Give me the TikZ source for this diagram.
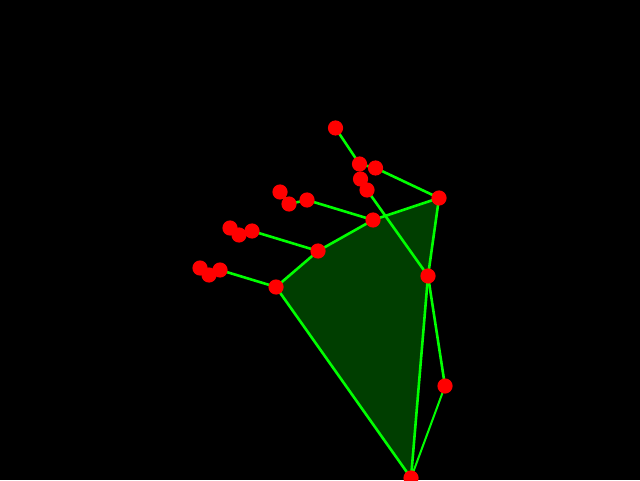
\documentclass[tikz,border=0pt]{standalone}
\definecolor{bone}{RGB}{0,255,0}
\definecolor{palm}{RGB}{0,62,0}
\definecolor{joint}{RGB}{255,0,0}
\tikzset{
  bonel/.style={draw=bone, line width=1.3pt},
  thinbone/.style={draw=bone, line width=1pt},
  jointdot/.style={circle, fill=joint, inner sep=0pt, minimum size=7.6pt},
}
\begin{document}
\begin{tikzpicture}[x=0.5pt,y=-0.5pt]
\fill[black] (0,0) rectangle (640,480);
\useasboundingbox (0,0) rectangle (640,480);
% coordinates
\coordinate (w) at (411,478);
\coordinate (a) at (445,386);
\coordinate (t) at (428,276);
\coordinate (x1) at (367,190);
\coordinate (x2) at (360.5,179);
\coordinate (i5) at (439,198);
\coordinate (i6) at (375.5,168);
\coordinate (i7) at (359.5,164);
\coordinate (i8) at (335.5,128);
\coordinate (m9) at (373,220);
\coordinate (m10) at (307,200);
\coordinate (m11) at (289,204);
\coordinate (m12) at (280,192);
\coordinate (r13) at (318,251);
\coordinate (r14) at (252,231);
\coordinate (r15) at (239,235);
\coordinate (r16) at (230,228);
\coordinate (p17) at (276,287);
\coordinate (p18) at (220,270);
\coordinate (p19) at (209,275);
\coordinate (p20) at (200,268);
% palm
\fill[palm] (w) -- (p17) -- (r13) -- (m9) -- (i5) -- (t) -- cycle;
% bones
\draw[thinbone] (w) -- (a);
\draw[bonel] (w) -- (p17);
\draw[bonel] (w) -- (t);
\draw[bonel] (a) -- (t);
\draw[bonel] (t) -- (i5);
\draw[bonel] (t) -- (x1) -- (x2);
\draw[bonel] (i5) -- (i6) -- (i7) -- (i8);
\draw[bonel] (i5) -- (m9) -- (m10) -- (m11) -- (m12);
\draw[bonel] (m9) -- (r13) -- (r14) -- (r15) -- (r16);
\draw[bonel] (r13) -- (p17) -- (p18) -- (p19) -- (p20);
% joints
\foreach \p in {w,a,t,x1,x2,i5,i6,i7,i8,m9,m10,m11,m12,r13,r14,r15,r16,p17,p18,p19,p20}
  \node[jointdot] (n\p) at (\p) {};
\end{tikzpicture}
\end{document}
